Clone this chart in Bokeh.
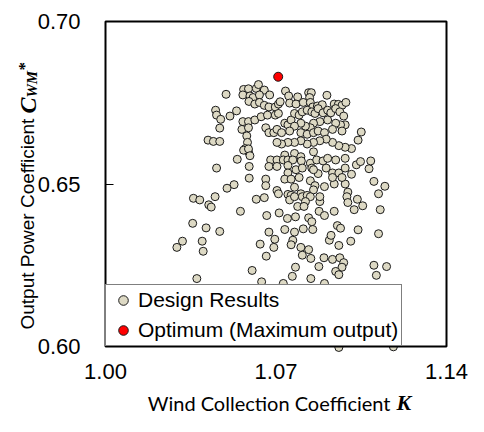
import math
from bokeh.plotting import figure
from bokeh.models import Range1d, FixedTicker, NumeralTickFormatter, Label, BoxAnnotation
from bokeh.embed import file_html
from bokeh.resources import INLINE

# ---- data ----
k_top = [1.0495, 1.0567, 1.0587, 1.0619, 1.0628, 1.0652, 1.0564, 1.0593, 1.0606, 1.0632, 1.0674, 1.0589,
         1.0613, 1.0632, 1.0652, 1.0671, 1.0697, 1.0710, 1.0717, 1.0739, 1.0752, 1.0756, 1.0789, 1.0782,
         1.0812, 1.0834, 1.0845, 1.0838, 1.0841, 1.0851, 1.0870, 1.0890, 1.0909, 1.0939, 1.0956, 1.0971,
         1.0987, 1.0452, 1.0456, 1.0473, 1.0511, 1.0538, 1.0469, 1.0421, 1.0443, 1.0469, 1.0564, 1.0587,
         1.0613, 1.0639, 1.0665, 1.0697, 1.0710, 1.0560, 1.0587, 1.0580, 1.0583, 1.0574, 1.0587, 1.0658,
         1.0671, 1.0691, 1.0704, 1.0723, 1.0736, 1.0749, 1.0762, 1.0776, 1.0795, 1.0808, 1.0828, 1.0847,
         1.0860, 1.0873, 1.0893, 1.0912, 1.0925, 1.0945, 1.0962, 1.0978, 1.0984, 1.0965, 1.0945, 1.0912,
         1.0880, 1.0854, 1.0841, 1.0821, 1.0802, 1.0776, 1.0756, 1.0802, 1.0828, 1.0854, 1.0873, 1.0899,
         1.0932, 1.0971, 1.1050, 1.1037, 1.1010, 1.0984, 1.0958, 1.0932, 1.0906, 1.0880, 1.0854, 1.0828,
         1.0802, 1.0776, 1.0749, 1.0723, 1.0704, 1.0854, 1.0776, 1.0736]
c_top = [0.6776, 0.6791, 0.6793, 0.6794, 0.6806, 0.6789, 0.6774, 0.6771, 0.6766, 0.6774, 0.6774, 0.6754,
         0.6746, 0.6751, 0.6742, 0.6737, 0.6737, 0.6746, 0.6753, 0.6786, 0.6771, 0.6749, 0.6768, 0.6746,
         0.6751, 0.6781, 0.6781, 0.6766, 0.6751, 0.6737, 0.6740, 0.6744, 0.6773, 0.6746, 0.6745, 0.6742,
         0.6751, 0.6727, 0.6712, 0.6699, 0.6709, 0.6725, 0.6672, 0.6635, 0.6631, 0.6631, 0.6692, 0.6692,
         0.6697, 0.6707, 0.6712, 0.6712, 0.6717, 0.6668, 0.6673, 0.6648, 0.6628, 0.6609, 0.6599, 0.6673,
         0.6658, 0.6658, 0.6668, 0.6658, 0.6687, 0.6682, 0.6697, 0.6717, 0.6712, 0.6722, 0.6727, 0.6722,
         0.6717, 0.6732, 0.6719, 0.6727, 0.6719, 0.6732, 0.6722, 0.6709, 0.6682, 0.6682, 0.6687, 0.6697,
         0.6692, 0.6687, 0.6673, 0.6678, 0.6687, 0.6678, 0.6663, 0.6658, 0.6653, 0.6658, 0.6663, 0.6658,
         0.6668, 0.6663, 0.6660, 0.6635, 0.6609, 0.6613, 0.6618, 0.6628, 0.6638, 0.6633, 0.6628, 0.6623,
         0.6633, 0.6628, 0.6628, 0.6623, 0.6628, 0.6599, 0.6594, 0.6589]

k_low = [1.0567, 1.0587, 1.0593, 1.0541, 1.0456, 1.0590, 1.0590, 1.0678, 1.0704, 1.0730, 1.0749, 1.0769,
         1.0802, 1.0804, 1.0841, 1.0867, 1.0893, 1.0912, 1.0945, 1.0984, 1.0671, 1.0704, 1.0749, 1.0782,
         1.0808, 1.0847, 1.0873, 1.0854, 1.0906, 1.0932, 1.0958, 1.0984, 1.1010, 1.1030, 1.1047, 1.1082,
         1.1089, 1.0749, 1.0736, 1.0762, 1.0795, 1.0841, 1.0860, 1.0854, 1.0899, 1.0939, 1.0984, 1.0995,
         1.0991, 1.0995, 1.0971, 1.0932, 1.1102, 1.1147, 1.1121, 1.1034, 1.1056, 1.1021, 1.1128, 1.0658,
         1.0658, 1.0704, 1.0710, 1.0749, 1.0762, 1.0776, 1.0802, 1.0808, 1.0828, 1.0841, 1.0821, 1.0789,
         1.0756, 1.0776, 1.0815, 1.0880, 1.0880, 1.0877, 1.0899, 1.0939, 1.0652, 1.0619, 1.0554, 1.0499,
         1.0528, 1.0450, 1.0424, 1.0434, 1.0361, 1.0387, 1.0662, 1.0713, 1.0747, 1.0780, 1.0834, 1.0847,
         1.0812, 1.0851, 1.0736, 1.0776, 1.0671, 1.0695, 1.0691, 1.0635, 1.0660, 1.0769, 1.0762, 1.0802,
         1.0834, 1.0808, 1.0843, 1.0780, 1.0767, 1.0843, 1.0876, 1.0897, 1.0932, 1.0962, 1.0978, 1.0971,
         1.0945, 1.0958, 1.0919, 1.0926, 1.0952, 1.0965, 1.0958, 1.1007, 1.1037, 1.1121, 1.1102, 1.1154,
         1.1112, 1.0358, 1.0413, 1.0469, 1.0316, 1.0293, 1.0397, 1.0401, 1.0375, 1.0602, 1.0641, 1.0730,
         1.0899, 1.1180, 1.1190, 1.1182, 1.0958]
c_low = [0.6604, 0.6608, 0.6587, 0.6576, 0.6549, 0.6554, 0.6518, 0.6574, 0.6574, 0.6574, 0.6574, 0.6574,
         0.6584, 0.6571, 0.6564, 0.6574, 0.6571, 0.6579, 0.6574, 0.6579, 0.6554, 0.6554, 0.6557, 0.6544,
         0.6549, 0.6549, 0.6532, 0.6544, 0.6549, 0.6534, 0.6534, 0.6549, 0.6530, 0.6559, 0.6569, 0.6547,
         0.6571, 0.6534, 0.6515, 0.6515, 0.6520, 0.6510, 0.6495, 0.6482, 0.6492, 0.6500, 0.6500, 0.6475,
         0.6461, 0.6443, 0.6520, 0.6520, 0.6508, 0.6493, 0.6470, 0.6453, 0.6433, 0.6421, 0.6421, 0.6515,
         0.6495, 0.6480, 0.6470, 0.6468, 0.6465, 0.6490, 0.6470, 0.6461, 0.6465, 0.6461, 0.6446, 0.6431,
         0.6451, 0.6461, 0.6431, 0.6446, 0.6461, 0.6416, 0.6403, 0.6416, 0.6458, 0.6453, 0.6416, 0.6487,
         0.6498, 0.6461, 0.6436, 0.6429, 0.6456, 0.6451, 0.6403, 0.6411, 0.6394, 0.6399, 0.6396, 0.6384,
         0.6362, 0.6360, 0.6360, 0.6352, 0.6352, 0.6330, 0.6305, 0.6315, 0.6278, 0.6327, 0.6313, 0.6305,
         0.6298, 0.6281, 0.6271, 0.6244, 0.6216, 0.6209, 0.6246, 0.6273, 0.6268, 0.6273, 0.6258, 0.6244,
         0.6231, 0.6221, 0.6327, 0.6342, 0.6372, 0.6364, 0.6311, 0.6324, 0.6359, 0.6347, 0.6250, 0.6246,
         0.6219, 0.6379, 0.6365, 0.6354, 0.6324, 0.6305, 0.6324, 0.6293, 0.6209, 0.6234, 0.6199, 0.6194,
         0.6194, 0.6160, 0.6113, 0.5999, 0.5997]

opt_k = [1.0709]
opt_c = [0.6830]

x_ticks = [1.00, 1.07, 1.14]
y_ticks = [0.60, 0.65, 0.70]

design_k = k_top + k_low
design_c = c_top + c_low

# ---- layout (pixels) ----
W, H = 468, 416
box_l, box_r, box_t, box_b = 105, 446, 21, 346

kpp = (x_ticks[-1] - x_ticks[0]) / (box_r - box_l)
cpp = (y_ticks[-1] - y_ticks[0]) / (box_b - box_t)
x_range = Range1d(x_ticks[0] - box_l * kpp, x_ticks[-1] + (W - box_r) * kpp)
y_range = Range1d(y_ticks[0] - (H - box_b) * cpp, y_ticks[-1] + box_t * cpp)

p = figure(width=W, height=H, output_backend="svg", toolbar_location=None,
           x_range=x_range, y_range=y_range, min_border=0)
p.min_border_left = p.min_border_right = p.min_border_top = p.min_border_bottom = 0
p.background_fill_color = "white"
p.border_fill_color = "white"
p.outline_line_color = None
p.grid.visible = False

p.scatter(design_k, design_c, size=8, fill_color="#DDD9C4", line_color="#1a1a1a", line_width=1,
          legend_label="Design Results")
p.scatter(opt_k, opt_c, size=9, fill_color="#FF0000", line_color="#1a1a1a", line_width=1,
          legend_label="Optimum (Maximum output)")

# plot box
p.add_layout(BoxAnnotation(left=x_ticks[0], right=x_ticks[-1], bottom=y_ticks[0], top=y_ticks[-1],
                           fill_alpha=0, line_color="black", line_width=2, line_alpha=1))

p.xaxis.fixed_location = y_ticks[0]
p.yaxis.fixed_location = x_ticks[0]
for ax, ticks in ((p.xaxis[0], x_ticks), (p.yaxis[0], y_ticks)):
    ax.ticker = FixedTicker(ticks=ticks)
    ax.formatter = NumeralTickFormatter(format="0.00")
    ax.axis_line_color = None
    ax.major_tick_in = 8
    ax.major_tick_out = 0
    ax.minor_tick_in = 0
    ax.minor_tick_out = 0
    ax.major_tick_line_color = "black"
    ax.major_label_text_font = "Liberation Sans"
    ax.major_label_text_font_size = "22px"
    ax.major_label_text_color = "black"
p.xaxis.major_label_standoff = 17
p.yaxis.major_label_standoff = 25

lg = p.legend[0]
lg.location = (box_l, H - box_b)
lg.margin = 0
lg.padding = 3
lg.spacing = 6
lg.glyph_width = 28
lg.glyph_height = 24
lg.label_height = 24
lg.label_standoff = 1
lg.border_line_color = "black"
lg.border_line_width = 1.5
lg.background_fill_alpha = 1
lg.label_text_font = "Liberation Sans"
lg.label_text_font_size = "21px"
lg.label_text_color = "black"

# x axis title (screen units, frame = whole canvas, y up from bottom)
p.add_layout(Label(x=390, y=14, x_units="screen", y_units="screen", text="Wind Collection Coefficient",
                   text_font="Lato", text_font_size="20px", text_align="right", text_baseline="alphabetic",
                   text_color="black"))
p.add_layout(Label(x=396, y=14, x_units="screen", y_units="screen", text="K",
                   text_font="Liberation Serif", text_font_style="bold italic", text_font_size="22px",
                   text_align="left", text_baseline="alphabetic", text_color="black"))

# y axis title, rotated
ang = math.pi / 2
p.add_layout(Label(x=27, y=87, x_units="screen", y_units="screen", angle=ang, text="Output Power Coefficient",
                   text_font="Liberation Sans", text_font_size="19px", text_align="left",
                   text_baseline="alphabetic", text_color="black"))
p.add_layout(Label(x=27, y=303, x_units="screen", y_units="screen", angle=ang, text="C",
                   text_font="Liberation Serif", text_font_style="bold italic", text_font_size="24px",
                   text_align="left", text_baseline="alphabetic", text_color="black"))
p.add_layout(Label(x=31, y=319, x_units="screen", y_units="screen", angle=ang, text="WM",
                   text_font="Liberation Serif", text_font_style="bold italic", text_font_size="15px",
                   text_align="left", text_baseline="alphabetic", text_color="black"))
p.add_layout(Label(x=24, y=346, x_units="screen", y_units="screen", angle=ang, text="*",
                   text_font="Liberation Serif", text_font_style="bold", text_font_size="17px",
                   text_align="left", text_baseline="alphabetic", text_color="black"))

open("out.html", "w").write(file_html(p, INLINE))
